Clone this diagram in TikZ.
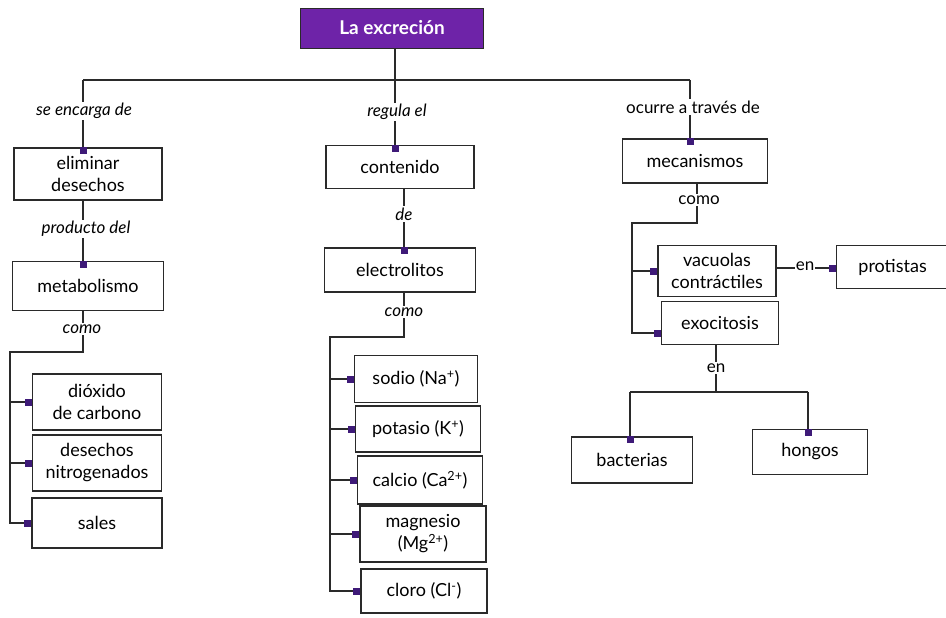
\documentclass[tikz,border=0pt]{standalone}
\usepackage{fontspec}
\setmainfont{Lato}
\definecolor{titlepurple}{HTML}{6E23A8}
\definecolor{markpurple}{HTML}{3E1A78}
\definecolor{boxline}{HTML}{2A2A2A}
\begin{document}
\begin{tikzpicture}[x=1pt,y=-1pt,
  box/.style={draw=boxline,line width=1.2pt,fill=white,minimum width=#1,minimum height=44pt,align=center,font=\fontsize{18}{22}\selectfont,inner sep=2pt},
  box/.default=148pt,
  titlebox/.style={draw=boxline,fill=titlepurple,text=white,minimum width=183pt,minimum height=40pt,font=\fontsize{19}{22}\selectfont\bfseries},
  lbl/.style={fill=white,inner sep=1.5pt,font=\fontsize{17}{20}\selectfont\itshape},
  lblu/.style={fill=white,inner sep=1.5pt,font=\fontsize{17}{20}\selectfont},
  conn/.style={draw=boxline,line width=1.2pt},
  mk/.style={fill=markpurple,minimum size=7pt,inner sep=0pt,outer sep=0pt}
]
\useasboundingbox (0,0) rectangle (946,618);

% title
\node[titlebox] (T) at (392,28) {La excreción};

% left column
\node[box=148pt,minimum height=52pt] (elim) at (88,174) {eliminar\\desechos};
\node[box=151pt,minimum height=49pt] (meta) at (88,286) {metabolismo};
\node[box=129pt,minimum height=56pt] (dio) at (97,402) {dióxido\\de carbono};
\node[box=129pt,minimum height=56pt] (nit) at (97,463) {desechos\\nitrogenados};
\node[box=130pt,minimum height=50pt] (sal) at (97,523) {sales};

% middle column
\node[box=148pt,minimum height=43pt] (cont) at (400,167) {contenido};
\node[box=151pt,minimum height=44pt] (elec) at (400,270) {electrolitos};
\node[box=123pt,minimum height=47pt] (na) at (416,379) {sodio (Na\textsuperscript{+})};
\node[box=125pt,minimum height=46pt] (k) at (418,429) {potasio (K\textsuperscript{+})};
\node[box=125pt,minimum height=48pt] (ca) at (420,480) {calcio (Ca\textsuperscript{2+})};
\node[box=126pt,minimum height=56pt] (mg) at (423,534) {magnesio\\(Mg\textsuperscript{2+})};
\node[box=126pt,minimum height=44pt] (cl) at (424,591) {cloro (Cl\textsuperscript{-})};

% right column
\node[box=145pt,minimum height=44pt] (meca) at (695,161) {mecanismos};
\node[box=118pt,minimum height=51pt] (vac) at (717,271) {vacuolas\\contráctiles};
\node[box=117pt,minimum height=43pt] (exo) at (720,323) {exocitosis};
\node[box=112pt,minimum height=43pt,anchor=west] (prot) at (836,267) {protistas};
\node[box=121pt,minimum height=46pt] (bac) at (632,460) {bacterias};
\node[box=115pt,minimum height=45pt] (hon) at (810,452) {hongos};

% coordinates
\coordinate (hl) at (83,80);
\coordinate (hr) at (690,80);
\coordinate (lc1) at (83,352);
\coordinate (lc2) at (10,352);
\coordinate (mc1) at (404,337);
\coordinate (mc2) at (330,337);
\coordinate (rc1) at (697,223);
\coordinate (rc2) at (632,223);
\coordinate (ec1) at (716,392);
\coordinate (ec2) at (630,392);
\coordinate (ec3) at (808,392);

% main connectors
\draw[conn] (T.south -| 395,0) -- (395,80);
\draw[conn] (hl) -- (hr);
\draw[conn] (hl) -- (elim.north -| hl);
\draw[conn] (395,48) -- (cont.north -| 395,0);
\draw[conn] (hr) -- (meca.north -| hr);

% left
\draw[conn] (elim.south -| hl) -- (meta.north -| hl);
\draw[conn] (meta.south -| hl) -- (lc1) -- (lc2) -- (lc2 |- sal.west) -- (sal.west);
\draw[conn] (lc2 |- dio.west) -- (dio.west);
\draw[conn] (lc2 |- nit.west) -- (nit.west);

% middle
\draw[conn] (cont.south -| mc1) -- (elec.north -| mc1);
\draw[conn] (elec.south -| mc1) -- (mc1) -- (mc2) -- (mc2 |- cl.west) -- (cl.west);
\draw[conn] (mc2 |- na.west) -- (na.west);
\draw[conn] (mc2 |- k.west) -- (k.west);
\draw[conn] (mc2 |- ca.west) -- (ca.west);
\draw[conn] (mc2 |- mg.west) -- (mg.west);

% right
\draw[conn] (meca.south -| rc1) -- (rc1) -- (rc2) -- (rc2 |- 0,333) -- (exo.west |- 0,333);
\draw[conn] (rc2 |- vac.west) -- (vac.west);
\draw[conn] (vac.east |- 0,268) -- (prot.west |- 0,268);
\draw[conn] (exo.south -| ec1) -- (ec1);
\draw[conn] (ec2) -- (ec3);
\draw[conn] (ec2) -- (bac.north -| ec2);
\draw[conn] (ec3) -- (hon.north -| ec3);

% labels
\node[lbl] (l1) at (84,111) {se encarga de};
\node[lbl] (l2) at (86,229) {producto del};
\node[lbl] (l3) at (82,329) {como};
\node[lbl] (l4) at (397,112) {regula el};
\node[lbl] (l5) at (404,214) {de};
\node[lbl] (l6) at (404,312) {como};
\node[lblu] (l7) at (693,107) {ocurre a través de};
\node[lblu] (l8) at (699,200) {como};
\node[lblu,inner sep=1pt] (l9) at (805,266) {en};
\node[lblu] (l10) at (716,368) {en};

% markers
\node[mk] (m1) at ([yshift=-3.5pt]elim.north -| hl) {};
\node[mk] (m2) at ([yshift=-3.5pt]meta.north -| hl) {};
\node[mk] (m3) at ([xshift=-3.5pt]dio.west) {};
\node[mk] (m4) at ([xshift=-3.5pt]nit.west) {};
\node[mk] (m5) at ([xshift=-3.5pt]sal.west) {};
\node[mk] (m6) at ([yshift=-3.5pt]cont.north -| 395,0) {};
\node[mk] (m7) at ([yshift=-3.5pt]elec.north -| mc1) {};
\node[mk] (m8) at ([xshift=-3.5pt]na.west) {};
\node[mk] (m9) at ([xshift=-3.5pt]k.west) {};
\node[mk] (m10) at ([xshift=-3.5pt]ca.west) {};
\node[mk] (m11) at ([xshift=-3.5pt]mg.west) {};
\node[mk] (m12) at ([xshift=-3.5pt]cl.west) {};
\node[mk] (m13) at ([yshift=-3.5pt]meca.north -| hr) {};
\node[mk] (m14) at ([xshift=-3.5pt]vac.west) {};
\node[mk] (m15) at ([xshift=-3.5pt]exo.west |- 0,333) {};
\node[mk] (m16) at ([xshift=-3.5pt]prot.west |- 0,268) {};
\node[mk] (m17) at ([yshift=-3.5pt]bac.north -| ec2) {};
\node[mk] (m18) at ([yshift=-3.5pt]hon.north -| ec3) {};
\end{tikzpicture}
\end{document}
